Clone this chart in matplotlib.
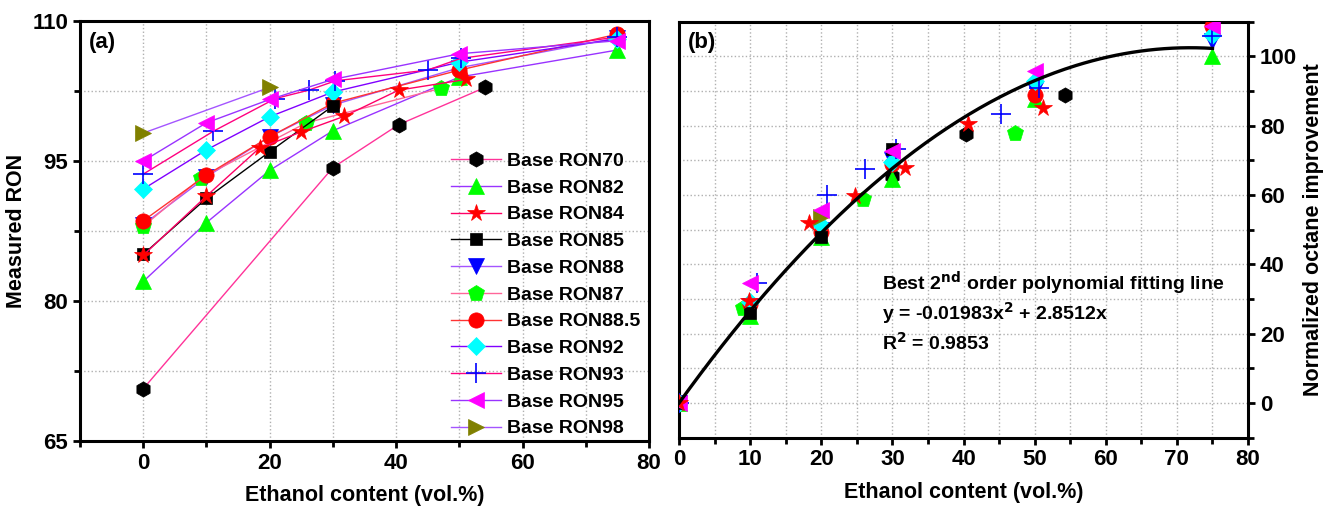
import matplotlib
matplotlib.use("Agg")
import matplotlib.pyplot as plt
from matplotlib.ticker import MultipleLocator, FixedLocator
import numpy as np

plt.rcParams['font.family'] = ['Liberation Sans', 'DejaVu Sans']
plt.rcParams['font.weight'] = 'bold'
plt.rcParams['mathtext.default'] = 'bf'

labels = ['Base RON70', 'Base RON82', 'Base RON84', 'Base RON85', 'Base RON88', 'Base RON87',
          'Base RON88.5', 'Base RON92', 'Base RON93', 'Base RON95', 'Base RON98']

# panel (a): measured RON
ron70_x = [0, 30, 40.4, 54.1]
ron70_y = [70.6, 94.3, 98.9, 102.9]
ron82_x = [0, 10, 20, 30, 50, 75]
ron82_y = [82.1, 88.4, 94.0, 98.25, 104.0, 106.9]
ron84_x = [0, 10, 18.4, 24.9, 31.8, 40.4, 51.1]
ron84_y = [84.9, 91.25, 96.4, 98.1, 99.8, 102.6, 103.75]
ron85_x = [0, 10, 20, 30]
ron85_y = [85.0, 91.0, 96.0, 100.9]
ron88_x = [0, 10, 20, 30, 50, 75]
ron88_y = [88.2, 93.3, 97.6, 101.0, 105.0, 108.2]
ron87_x = [0, 9.2, 25.8, 47.1]
ron87_y = [88.0, 93.2, 99.1, 102.8]
ron885_x = [0, 10, 20, 30, 50, 75]
ron885_y = [88.6, 93.5, 97.6, 101.2, 104.75, 108.6]
ron92_x = [0, 10, 20, 30, 50, 75]
ron92_y = [92.0, 96.2, 99.75, 102.4, 105.6, 108.1]
ron93_x = [0, 11.1, 20.9, 26.2, 30.4, 45.0, 50.2, 75]
ron93_y = [93.6, 98.2, 101.7, 102.6, 103.6, 104.75, 106.0, 108.3]
ron95_x = [0, 10, 20, 30, 50, 75]
ron95_y = [95.0, 99.1, 101.6, 103.75, 106.5, 107.9]
ron98_x = [0, 20]
ron98_y = [98.0, 102.9]

# panel (b): normalized octane improvement
n70_x = [0, 30, 40.4, 54.2]
n70_y = [0, 65.4, 77.7, 88.9]
n82_x = [0, 10, 20, 30, 50, 75]
n82_y = [0, 25.0, 48.0, 64.5, 87.8, 100.0]
n84_x = [0, 9.8, 18.3, 24.8, 31.8, 40.6, 51.2]
n84_y = [0, 29.5, 51.8, 59.6, 67.7, 80.5, 85.2]
n85_x = [0, 10, 20, 30]
n85_y = [0, 26.0, 48.0, 73.2]
n88_x = [0, 10, 20, 30, 50, 75]
n88_y = [0, 28.0, 50.0, 70.0, 90.4, 104.3]
n87_x = [0, 9.0, 25.9, 47.2]
n87_y = [0, 27.3, 58.8, 77.9]
n885_x = [0, 10, 20, 30, 50, 75]
n885_y = [0, 28.5, 49.4, 69.0, 88.9, 108.7]
n92_x = [0, 10, 20, 30, 50, 75]
n92_y = [0, 29.0, 51.3, 69.4, 92.8, 106.3]
n93_x = [0, 11.0, 20.8, 26.2, 30.5, 45.2, 50.6, 75]
n93_y = [0, 34.7, 60.0, 67.5, 73.2, 83.4, 90.9, 106.0]
n95_x = [0, 10, 20, 30, 50, 75]
n95_y = [0, 34.7, 55.7, 72.8, 95.7, 108.7]
n98_x = [0, 20]
n98_y = [0, 53.8]

fit_a = -0.01983
fit_b = 2.8512
fit_xmax = 75

a_data = [(ron70_x, ron70_y), (ron82_x, ron82_y), (ron84_x, ron84_y), (ron85_x, ron85_y),
          (ron88_x, ron88_y), (ron87_x, ron87_y), (ron885_x, ron885_y), (ron92_x, ron92_y),
          (ron93_x, ron93_y), (ron95_x, ron95_y), (ron98_x, ron98_y)]
b_data = [(n70_x, n70_y), (n82_x, n82_y), (n84_x, n84_y), (n85_x, n85_y),
          (n88_x, n88_y), (n87_x, n87_y), (n885_x, n885_y), (n92_x, n92_y),
          (n93_x, n93_y), (n95_x, n95_y), (n98_x, n98_y)]

line_colors = ['#ff3399', '#9933ff', '#ff0066', '#000000', '#a455ff', '#ff6699',
               '#ff3333', '#8000ff', '#ff0080', '#9933ff', '#a455ff']
mk_colors = ['#000000', '#00ff00', '#ff0000', '#000000', '#0000ff', '#00ff00',
             '#ff0000', '#00ffff', '#0000ff', '#ff00ff', '#808000']
markers = ['h', '^', '*', 's', 'v', 'p', 'o', 'D', '+', '<', '>']
msizes = [11, 11, 13, 9, 11, 12, 11, 9, 14, 11, 11]
zorders = [3, 3, 5, 4, 3, 3, 3, 3, 3, 4, 3]

fig = plt.figure(figsize=(13.28, 5.07), dpi=100)
ax1 = fig.add_axes([0.0602, 0.130, 0.4285, 0.8284])
ax2 = fig.add_axes([0.5113, 0.1367, 0.4285, 0.8205])


def style(ax):
    for s in ax.spines.values():
        s.set_linewidth(2.2)
    ax.tick_params(which='major', direction='out', width=2, length=5, labelsize=16)
    ax.tick_params(which='minor', direction='out', width=2, length=4)
    ax.grid(True, which='both', linestyle=':', color='#b0b0b0', linewidth=1.0)
    ax.set_axisbelow(True)
    for lab in ax.get_xticklabels() + ax.get_yticklabels():
        lab.set_fontweight('bold')


# panel (a)
for i, (xs, ys) in enumerate(a_data):
    ax1.plot(xs, ys, color=line_colors[i], lw=1.0, marker=markers[i], ms=msizes[i],
             mfc=mk_colors[i], mec=mk_colors[i], mew=1.2 if markers[i] == '+' else 0.5,
             label=labels[i], zorder=zorders[i])
ax1.set_xlim(-10, 80)
ax1.set_ylim(65, 110)
ax1.xaxis.set_major_locator(FixedLocator([0, 20, 40, 60, 80]))
ax1.xaxis.set_minor_locator(FixedLocator([-10, 10, 30, 50, 70]))
ax1.yaxis.set_major_locator(FixedLocator([65, 80, 95, 110]))
ax1.yaxis.set_minor_locator(FixedLocator([72.5, 87.5, 102.5]))
style(ax1)
ax1.set_xlabel('Ethanol content (vol.%)', fontsize=15.5, fontweight='bold', labelpad=8)
ax1.set_ylabel('Measured RON', fontsize=15.5, fontweight='bold')
ax1.text(0.015, 0.975, '(a)', transform=ax1.transAxes, fontsize=16, fontweight='bold', va='top')
ax1.legend(loc='lower right', frameon=False, fontsize=14, handlelength=2.6,
           labelspacing=0.47, borderaxespad=0.05, handletextpad=0.3,
           bbox_to_anchor=(1.0, -0.012))

# panel (b)
for i, (xs, ys) in enumerate(b_data):
    ax2.plot(xs, ys, linestyle='none', marker=markers[i], ms=msizes[i],
             mfc=mk_colors[i], mec=mk_colors[i], mew=1.2 if markers[i] == '+' else 0.5,
             zorder=zorders[i])
xf = np.linspace(0, fit_xmax, 200)
ax2.plot(xf, fit_a * xf ** 2 + fit_b * xf, color='black', lw=2.4, zorder=6)
ax2.set_xlim(0, 80)
ax2.set_ylim(-10, 110)
ax2.xaxis.set_major_locator(MultipleLocator(10))
ax2.xaxis.set_minor_locator(MultipleLocator(5))
ax2.yaxis.set_major_locator(MultipleLocator(20))
ax2.yaxis.set_minor_locator(MultipleLocator(10))
style(ax2)
ax2.yaxis.tick_right()
ax2.yaxis.set_label_position('right')
ax2.tick_params(axis='y', which='both', left=False, right=True)
for lab in ax2.get_yticklabels():
    lab.set_fontweight('bold')
ax2.set_xlabel('Ethanol content (vol.%)', fontsize=15.5, fontweight='bold', labelpad=8)
ax2.set_ylabel('Normalized octane improvement', fontsize=15.5, fontweight='bold')
ax2.text(0.015, 0.975, '(b)', transform=ax2.transAxes, fontsize=16, fontweight='bold', va='top')
ax2.text(28.5, 34.6, 'Best 2$^{nd}$ order polynomial fitting line', fontsize=14,
         fontweight='bold', va='center')
ax2.text(28.5, 26.0, 'y = -0.01983x$^{2}$ + 2.8512x', fontsize=14,
         fontweight='bold', va='center')
ax2.text(28.5, 17.4, 'R$^{2}$ = 0.9853', fontsize=14, fontweight='bold', va='center')

fig.savefig('out.png', dpi=100)
